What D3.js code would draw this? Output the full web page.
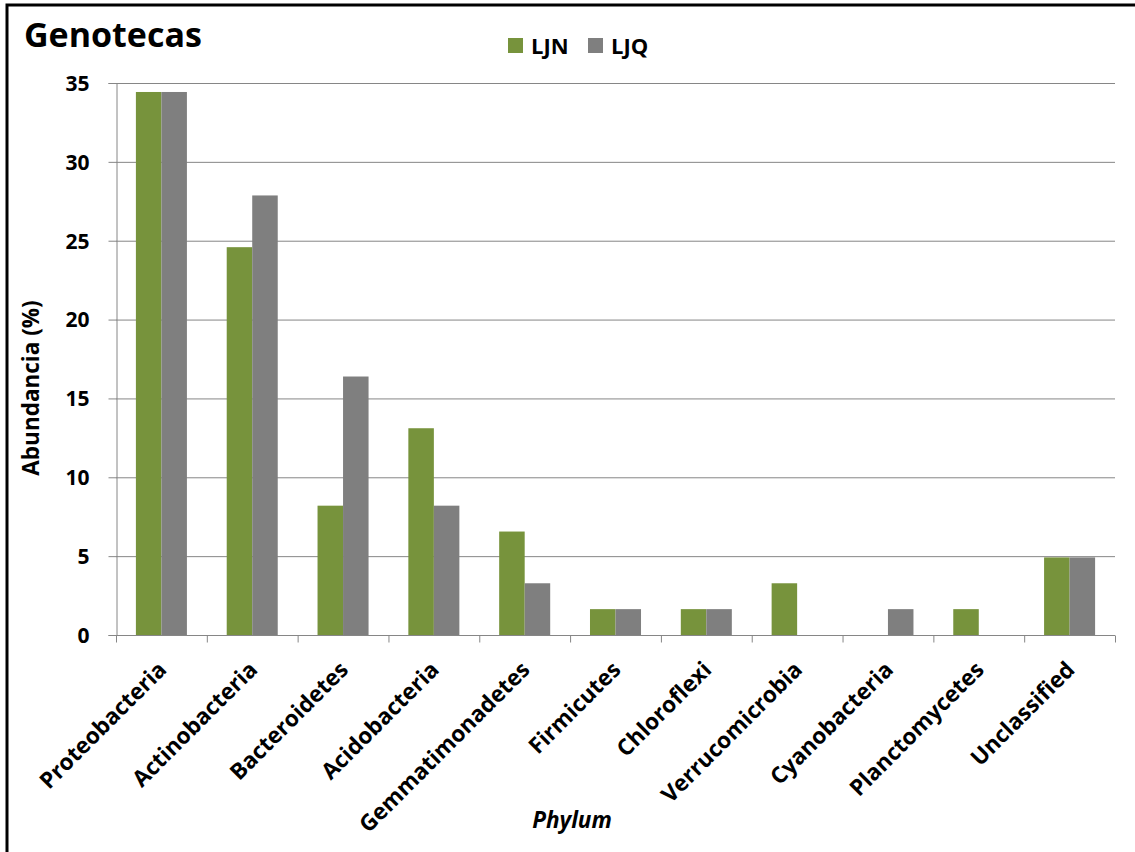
<!DOCTYPE html>
<html>
<head>
<meta charset="utf-8">
<script src="https://cdn.jsdelivr.net/npm/d3@7"></script>
<style>
  html, body { margin: 0; padding: 0; background: #fff; }
  svg { display: block; }
  text { font-family: "Open Sans", "Noto Sans", sans-serif; font-weight: bold; fill: #000; }
</style>
</head>
<body>
<svg id="chart" width="1135" height="852"></svg>
<script>
// Relative abundance (%) of each phylum in the two libraries
const categories = ["Proteobacteria", "Actinobacteria", "Bacteroidetes", "Acidobacteria",
  "Gemmatimonadetes", "Firmicutes", "Chloroflexi", "Verrucomicrobia", "Cyanobacteria",
  "Planctomycetes", "Unclassified"];
const seriesNames = ["LJN", "LJQ"];
const ljn = [34.43, 24.59, 8.20, 13.11, 6.56, 1.64, 1.64, 3.28, 0, 1.64, 4.92];
const ljq = [34.43, 27.87, 16.39, 8.20, 3.28, 1.64, 1.64, 0, 1.64, 0, 4.92];
const yTicks = [0, 5, 10, 15, 20, 25, 30, 35];
const colors = ["#77933C", "#7F7F7F"];

const svg = d3.select("#chart");
const W = 1135, H = 852;
const m = { left: 116, right: 20, top: 83, bottom: 217 };

// outer frame (only top and left edges fall inside the page)
svg.append("rect").attr("x", 7).attr("y", 5).attr("width", W + 20).attr("height", H + 20)
  .attr("fill", "none").attr("stroke", "#000").attr("stroke-width", 3);

const x = d3.scaleBand().domain(categories).range([m.left, W - m.right]);
const x1 = d3.scaleBand().domain(seriesNames).range([0, x.bandwidth()]).paddingOuter(0.78).paddingInner(0);
const y = d3.scaleLinear().domain([0, 35]).range([H - m.bottom, m.top]);

// horizontal gridlines
svg.append("g").selectAll("line").data(yTicks.filter(d => d > 0)).join("line")
  .attr("x1", m.left).attr("x2", W - m.right)
  .attr("y1", d => y(d) + 0.5).attr("y2", d => y(d) + 0.5)
  .attr("stroke", "#868686").attr("stroke-width", 1);

// bars
const series = [ljn, ljq];
const g = svg.append("g");
categories.forEach((c, i) => {
  seriesNames.forEach((s, j) => {
    const v = series[j][i];
    if (v <= 0) return;
    g.append("rect")
      .attr("x", x(c) + x1(s))
      .attr("width", x1.bandwidth())
      .attr("y", y(v))
      .attr("height", y(0) - y(v))
      .attr("fill", colors[j]);
  });
});

// y axis
const yAxis = svg.append("g").attr("transform", `translate(${m.left + 0.5},0)`)
  .call(d3.axisLeft(y).tickValues(yTicks).tickSize(8).tickPadding(19).tickFormat(d3.format("d")));
yAxis.select(".domain").attr("stroke", "#868686");
yAxis.selectAll(".tick line").attr("stroke", "#868686");
yAxis.selectAll(".tick text").style("font-size", "21px").style("font-weight", "bold")
  .style("font-family", "'Open Sans', sans-serif").attr("fill", "#000").attr("dy", "0.35em");

// x axis with boundary ticks
const xAxisG = svg.append("g").attr("transform", `translate(0,${y(0) + 0.5})`);
xAxisG.append("line").attr("x1", m.left).attr("x2", W - m.right).attr("stroke", "#868686");
const bounds = categories.map(c => x(c)).concat([W - m.right]);
xAxisG.selectAll("line.tk").data(bounds).join("line").attr("class", "tk")
  .attr("x1", d => d + 0.5).attr("x2", d => d + 0.5).attr("y1", 0).attr("y2", 7)
  .attr("stroke", "#868686");
xAxisG.selectAll("text").data(categories).join("text")
  .attr("transform", d => `translate(${x(d) + x.bandwidth() / 2 + 1},${30}) rotate(-45)`)
  .attr("text-anchor", "end")
  .attr("dy", "0.35em")
  .style("font-size", "22.5px")
  .text(d => d);

// titles
svg.append("text").attr("x", 24).attr("y", 47).style("font-size", "34px").text("Genotecas");
svg.append("text")
  .attr("transform", `translate(39,${388}) rotate(-90)`)
  .attr("text-anchor", "middle").style("font-size", "22.5px").text("Abundancia (%)");
svg.append("text").attr("x", 572).attr("y", 828).attr("text-anchor", "middle")
  .style("font-size", "22.5px").style("font-style", "italic").text("Phylum");

// legend
const legend = svg.append("g").attr("transform", "translate(508,38)");
let lx = 0;
seriesNames.forEach((s, j) => {
  legend.append("rect").attr("x", lx).attr("y", 0).attr("width", 15).attr("height", 15).attr("fill", colors[j]);
  legend.append("text").attr("x", lx + 23).attr("y", 16).style("font-size", "22px").text(s);
  lx += 80;
});
</script>
</body>
</html>
